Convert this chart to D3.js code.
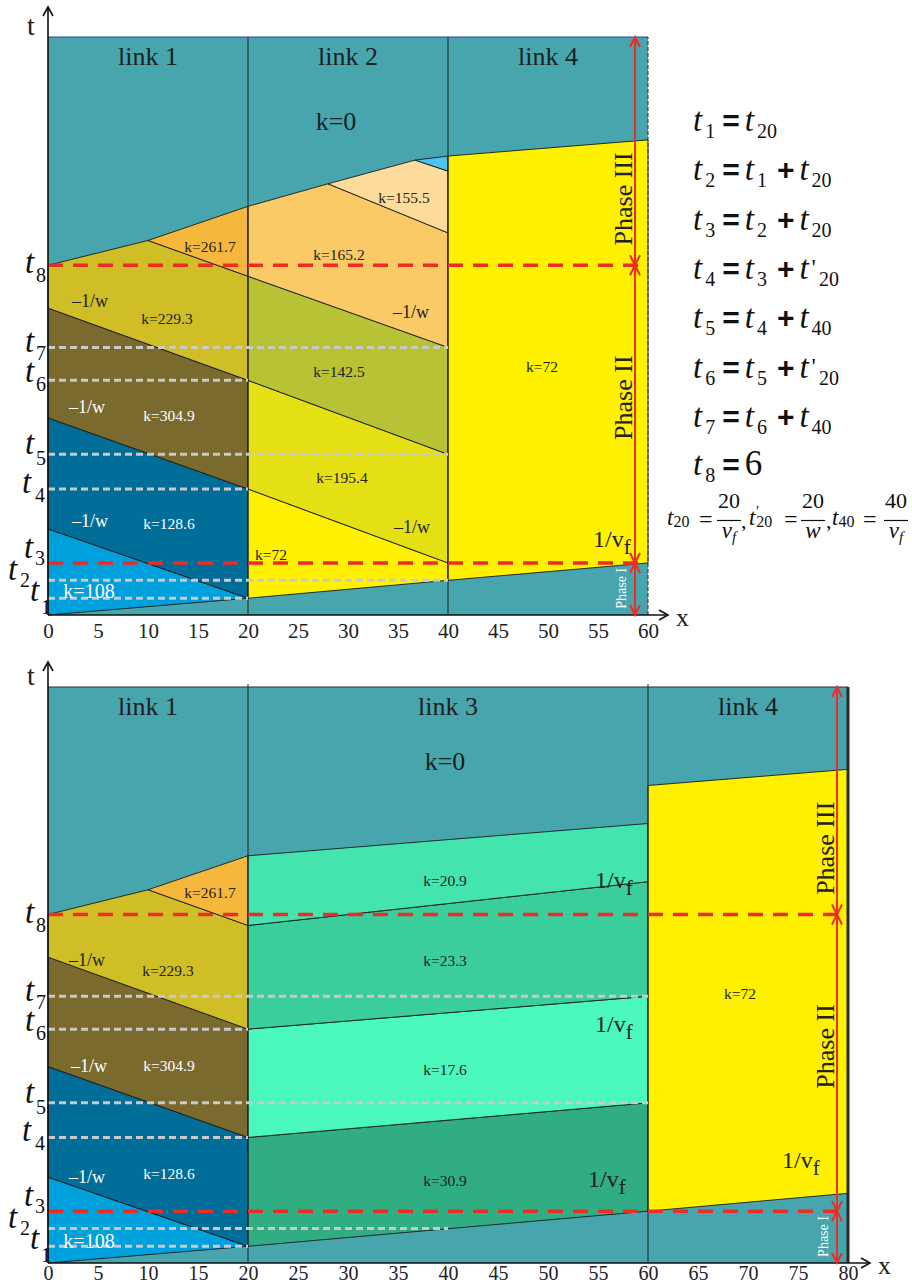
<!DOCTYPE html>
<html>
<head>
<meta charset="utf-8">
<script src="https://cdn.jsdelivr.net/npm/d3@7"></script>
<style>
body { margin: 0; background: #fff; }
svg text { font-family: "Liberation Serif", "DejaVu Serif", serif; }
</style>
</head>
<body>
<svg id="chart" width="912" height="1287"></svg>
<script>
// ---- data (x in km, t in the diagram's time units) ----
var tNames  = ["1", "2", "3", "4", "5", "6", "7", "8"];
var tValues = [0.29, 0.60, 0.90, 2.18, 2.78, 4.06, 4.63, 6.05];

var topLinkNames = ["link 1", "link 2", "link 4"];
var topLinkEdges = [0, 20, 40, 60];
var topTicks = [0, 5, 10, 15, 20, 25, 30, 35, 40, 45, 50, 55, 60];

var botLinkNames = ["link 1", "link 3", "link 4"];
var botLinkEdges = [0, 20, 60, 80];
var botTicks = [0, 5, 10, 15, 20, 25, 30, 35, 40, 45, 50, 55, 60, 65, 70, 75, 80];

// wave regions, corner points [x, t]
var link1Regions = [
  { id: "k108", pts: [[0, 0], [20, 0.29], [0, 1.49]] },
  { id: "k128", pts: [[0, 1.49], [20, 0.29], [20, 2.18], [0, 3.41]] },
  { id: "k305", pts: [[0, 3.41], [20, 2.18], [20, 4.06], [0, 5.31]] },
  { id: "k229", pts: [[0, 5.31], [20, 4.06], [20, 5.86], [10, 6.48], [0, 6.05]] },
  { id: "k262", pts: [[10, 6.48], [20, 5.86], [20, 7.07]] }
];
var link2Regions = [
  { id: "k72",  pts: [[20, 0.29], [40, 0.60], [40, 0.90], [20, 2.18]] },
  { id: "k195", pts: [[20, 2.18], [40, 0.90], [40, 2.78], [20, 4.06]] },
  { id: "k142", pts: [[20, 4.06], [40, 2.78], [40, 4.63], [20, 5.86]] },
  { id: "k165", pts: [[20, 5.86], [40, 4.63], [40, 6.61], [28, 7.46], [20, 7.07]] },
  { id: "k155", pts: [[28, 7.46], [40, 6.61], [40, 7.68], [36.7, 7.87]] },
  { id: "kCyan", pts: [[36.7, 7.87], [40, 7.68], [40, 7.94]] }
];
var link4TopRegions = [
  { id: "k72", pts: [[40, 0.60], [60, 0.90], [60, 8.22], [40, 7.94]] }
];
var link3Regions = [
  { id: "k31", pts: [[20, 0.29], [60, 0.90], [60, 2.78], [20, 2.18]] },
  { id: "k18", pts: [[20, 2.18], [60, 2.78], [60, 4.63], [20, 4.06]] },
  { id: "k23", pts: [[20, 4.06], [60, 4.63], [60, 6.62], [20, 5.86]] },
  { id: "k21", pts: [[20, 5.86], [60, 6.62], [60, 7.63], [20, 7.07]] }
];
var link4BotRegions = [
  { id: "k72", pts: [[60, 0.90], [80, 1.21], [80, 8.57], [60, 8.29]] }
];

// grey guide lines: [t name, x where it stops]
var topGuides = [["1", 20], ["2", 40], ["4", 20], ["5", 40], ["6", 20], ["7", 40]];
var botGuides = [["1", 20], ["2", 40], ["4", 20], ["5", 60], ["6", 20], ["7", 60]];
var phaseBounds = ["8", "3"];
var phaseNames = ["Phase III", "Phase II", "Phase I"];
var phaseLabelT = [7.2, 3.76, 0.46];

// labels: [text, x, t, kind]
var topLabels = [
  ["k=0", 28.8, 8.39, "big"],
  ["k=261.7", 16.2, 6.28, "k"],
  ["k=165.2", 29.1, 6.14, "k"],
  ["k=155.5", 35.6, 7.13, "k"],
  ["\u20131/w", 4.2, 5.33, "w"],
  ["k=229.3", 11.9, 5.03, "k"],
  ["\u20131/w", 36.3, 5.14, "w"],
  ["k=142.5", 29.1, 4.12, "k"],
  ["\u20131/w", 3.9, 3.50, "wl"],
  ["k=304.9", 12.1, 3.36, "kl"],
  ["k=195.4", 29.4, 2.28, "k"],
  ["\u20131/w", 4.2, 1.52, "wl"],
  ["k=128.6", 12.1, 1.49, "kl"],
  ["\u20131/w", 36.4, 1.42, "w"],
  ["k=72", 22.3, 0.95, "k"],
  ["k=108", 4.1, 0.29, "kb"],
  ["k=72", 49.4, 4.20, "k"],
  ["1/v", 54.5, 1.18, "vf"]
];
var botLabels = [
  ["k=0", 39.7, 8.56, "big"],
  ["k=261.7", 16.2, 6.34, "k"],
  ["k=20.9", 39.7, 6.55, "k"],
  ["1/v", 54.7, 6.51, "vf"],
  ["\u20131/w", 3.9, 5.16, "w"],
  ["k=229.3", 12.0, 4.99, "k"],
  ["k=23.3", 39.7, 5.16, "k"],
  ["1/v", 54.7, 4.01, "vf"],
  ["k=17.6", 39.7, 3.26, "k"],
  ["\u20131/w", 4.1, 3.32, "wl"],
  ["k=304.9", 12.1, 3.33, "kl"],
  ["k=72", 69.2, 4.58, "k"],
  ["1/v", 73.4, 1.65, "vf"],
  ["k=128.6", 12.1, 1.46, "kl"],
  ["\u20131/w", 3.9, 1.39, "wl"],
  ["k=30.9", 39.7, 1.34, "k"],
  ["1/v", 54.0, 1.32, "vf"],
  ["k=108", 4.1, 0.26, "kb"]
];

var eqLines = ["t_1 = t_20", "t_2 = t_1 + t_20", "t_3 = t_2 + t_20", "t_4 = t_3 + t'_20",
               "t_5 = t_4 + t_40", "t_6 = t_5 + t'_20", "t_7 = t_6 + t_40", "t_8 = 6"];

// ---- styles ----
var colors = {
  teal: "#47a5ad", k108: "#00a0dc", k128: "#016d99", k305: "#7a6a2e", k229: "#d0be27",
  k262: "#f5b83d", k72: "#fff100", k195: "#e4e014", k142: "#b7c334", k165: "#f9ca66",
  k155: "#fddb9b", kCyan: "#4cc4f0", k31: "#30ad83", k18: "#4af8be", k23: "#3bce9d", k21: "#44e4ae"
};
var labelStyle = {
  big: { size: 26, fill: "#1e1e1e" },
  k:   { size: 15.5, fill: "#222" },
  kl:  { size: 15.5, fill: "#fff" },
  kb:  { size: 20, fill: "#fff" },
  w:   { size: 18, fill: "#222" },
  wl:  { size: 18, fill: "#fff" },
  vf:  { size: 24, fill: "#222" }
};
var tLabelPos = { // t x, subscript x, t dy, subscript dy
  "1": [30, 41, 3, 16], "2": [8, 20, 0, 7], "3": [24, 35, -5, 2], "4": [22, 35, 4, 13],
  "5": [25, 36, 0, 11], "6": [25, 36, 2, 11], "7": [25, 36, 5, 13], "8": [25, 36, 8, 17]
};
var RED = "#ee2b25";

var svg = d3.select("#chart");
var defs = svg.append("defs");

function marker(id, color, len, half, w) {
  defs.append("marker")
    .attr("id", id)
    .attr("viewBox", (-len - 2) + " " + (-half - 2) + " " + (len + 4) + " " + (2 * half + 4))
    .attr("markerWidth", len + 4).attr("markerHeight", 2 * half + 4)
    .attr("markerUnits", "userSpaceOnUse")
    .attr("refX", 0).attr("refY", 0)
    .attr("orient", "auto-start-reverse")
    .append("path")
    .attr("d", "M" + (-len) + "," + (-half) + "L0,0L" + (-len) + "," + half)
    .attr("fill", "none").attr("stroke", color).attr("stroke-width", w);
}
marker("blackHead", "#111", 9, 5, 1.6);
marker("redHead", RED, 10, 5, 2);

var tOf = function(name) { return tValues[tNames.indexOf(name)]; };

function drawPanel(p) {
  var x = p.x, y = p.y;
  var g = svg.append("g");
  var line = d3.line().x(function(d) { return x(d[0]); }).y(function(d) { return y(d[1]); });

  g.append("rect")
    .attr("x", x(0)).attr("y", y(10))
    .attr("width", x(p.xMax) - x(0)).attr("height", y(0) - y(10))
    .attr("fill", colors.teal);

  g.selectAll("path.region")
    .data(p.regions)
    .enter().append("path")
    .attr("class", "region")
    .attr("d", function(d) { return line(d.pts) + "Z"; })
    .attr("fill", function(d) { return colors[d.id]; })
    .attr("stroke", "#1a1a1a")
    .attr("stroke-width", 0.9)
    .attr("stroke-linejoin", "round");

  // link dividers
  g.selectAll("line.link")
    .data(p.edges.slice(1, -1))
    .enter().append("line")
    .attr("x1", function(d) { return x(d); }).attr("x2", function(d) { return x(d); })
    .attr("y1", y(0)).attr("y2", y(10) - p.dividerOver)
    .attr("stroke", "#222").attr("stroke-width", 1);

  // grey guide lines
  g.selectAll("line.guide")
    .data(p.guides)
    .enter().append("line")
    .attr("x1", x(0)).attr("x2", function(d) { return x(d[1]); })
    .attr("y1", function(d) { return y(tOf(d[0])); })
    .attr("y2", function(d) { return y(tOf(d[0])); })
    .attr("stroke", "#c9c9c9").attr("stroke-width", 3).attr("stroke-dasharray", "7,4");

  // red phase lines
  g.selectAll("line.red")
    .data(phaseBounds)
    .enter().append("line")
    .attr("x1", x(0)).attr("x2", x(p.xMax))
    .attr("y1", function(d) { return y(tOf(d)); })
    .attr("y2", function(d) { return y(tOf(d)); })
    .attr("stroke", RED).attr("stroke-width", 3.5).attr("stroke-dasharray", "15,10");

  // frame
  g.append("line").attr("x1", x(0)).attr("x2", x(p.xMax)).attr("y1", y(10)).attr("y2", y(10))
    .attr("stroke", p.topColor).attr("stroke-width", 1.2);
  g.append("line").attr("x1", x(p.xMax)).attr("x2", x(p.xMax)).attr("y1", y(0)).attr("y2", y(10))
    .attr("stroke", "#2a2a2a").attr("stroke-width", p.rightWidth)
    .attr("stroke-dasharray", p.rightDash);

  // axes with arrows
  g.append("line").attr("x1", x(0)).attr("x2", x(0)).attr("y1", y(0)).attr("y2", p.tTip)
    .attr("stroke", "#111").attr("stroke-width", 1.6).attr("marker-end", "url(#blackHead)");
  g.append("line").attr("x1", x(0)).attr("x2", p.xTip).attr("y1", y(0)).attr("y2", y(0))
    .attr("stroke", "#111").attr("stroke-width", 1.6).attr("marker-end", "url(#blackHead)");
  g.append("text").attr("x", 27).attr("y", y(10) - 2).attr("font-size", 28).attr("fill", "#222").text("t");
  g.append("text").attr("x", p.xTip + 8).attr("y", y(0) + 11).attr("font-size", 26).attr("fill", "#222").text("x");

  var axis = d3.axisBottom(x).tickValues(p.ticks).tickSize(0).tickPadding(p.tickPad).tickFormat(d3.format("d"));
  var ax = g.append("g").attr("transform", "translate(0," + y(0) + ")").call(axis);
  ax.select(".domain").remove();
  ax.selectAll("text").attr("font-size", p.tickSize).attr("fill", "#222")
    .style("font-family", "'Liberation Serif', serif");

  // link names
  g.selectAll("text.link")
    .data(p.linkNames)
    .enter().append("text")
    .attr("x", function(d, i) { return (x(p.edges[i]) + x(p.edges[i + 1])) / 2; })
    .attr("y", y(10) + 28)
    .attr("text-anchor", "middle").attr("font-size", 26).attr("fill", "#1e1e1e")
    .text(function(d) { return d; });

  // t marks on the left
  tNames.forEach(function(n) {
    var py = y(tOf(n)), pos = tLabelPos[n];
    g.append("text").attr("x", pos[0]).attr("y", py + pos[2])
      .attr("font-size", 33).attr("font-style", "italic").attr("fill", "#111").text("t");
    g.append("text").attr("x", pos[1]).attr("y", py + pos[3])
      .attr("font-size", 20).attr("fill", "#111").text(n);
  });

  // region labels
  p.labels.forEach(function(d) {
    var st = labelStyle[d[3]];
    var t = g.append("text")
      .attr("x", x(d[1])).attr("y", y(d[2]))
      .attr("font-size", st.size).attr("fill", st.fill)
      .attr("text-anchor", d[3] === "vf" ? "start" : "middle")
      .text(d[0]);
    if (d[3] === "vf") {
      t.append("tspan").attr("dy", 7).attr("font-size", 21).text("f");
    }
  });

  // phase arrows
  var bounds = [10, tOf(phaseBounds[0]), tOf(phaseBounds[1]), 0];
  var ax0 = x(p.arrowX);
  for (var i = 0; i < 3; i++) {
    g.append("line").attr("x1", ax0).attr("x2", ax0)
      .attr("y1", y(bounds[i])).attr("y2", y(bounds[i + 1]))
      .attr("stroke", RED).attr("stroke-width", 2)
      .attr("marker-start", "url(#redHead)").attr("marker-end", "url(#redHead)");
    var small = i === 2;
    g.append("text")
      .attr("transform", "translate(" + (ax0 - (small ? 9 : 3)) + "," + y(phaseLabelT[i]) + ") rotate(-90)")
      .attr("text-anchor", "middle")
      .attr("font-size", small ? 14 : 26)
      .attr("fill", small ? "#fff" : "#222")
      .text(phaseNames[i]);
  }
}

drawPanel({
  x: d3.scaleLinear().domain([0, 60]).range([48, 648]),
  y: d3.scaleLinear().domain([0, 10]).range([615, 37]),
  xMax: 60, edges: topLinkEdges, linkNames: topLinkNames, ticks: topTicks,
  regions: link1Regions.concat(link2Regions, link4TopRegions),
  guides: topGuides, labels: topLabels, arrowX: 58.7, tickPad: 8, tickSize: 21,
  tTip: 7, xTip: 668, topColor: "#3d3d9c", rightWidth: 1, rightDash: "4,2", dividerOver: 0
});

drawPanel({
  x: d3.scaleLinear().domain([0, 80]).range([48, 848]),
  y: d3.scaleLinear().domain([0, 10]).range([1263, 687]),
  xMax: 80, edges: botLinkEdges, linkNames: botLinkNames, ticks: botTicks,
  regions: link1Regions.concat(link3Regions, link4BotRegions),
  guides: botGuides, labels: botLabels, arrowX: 78.9, tickPad: 3, tickSize: 20,
  tTip: 662, xTip: 870, topColor: "#333", rightWidth: 3, rightDash: null, dividerOver: 3
});

// ---- equations on the right ----
var eqG = svg.append("g");
eqLines.forEach(function(str, row) {
  var base = row < 7 ? 131 + row * 49.3 : 475;
  var txt = eqG.append("text").attr("x", 693).attr("y", base).attr("fill", "#111");
  var prevOp = false;
  str.split(" ").forEach(function(tok) {
    if (tok === "=" || tok === "+") {
      txt.append("tspan").attr("y", base).attr("dx", tok === "+" ? 10 : 7)
        .style("font-family", "'Liberation Sans', Arial, sans-serif")
        .attr("font-weight", "bold").attr("font-size", 30).text(tok);
      prevOp = true;
    } else if (tok.indexOf("t") === 0) {
      var parts = tok.split("_");
      txt.append("tspan").attr("y", base).attr("dx", prevOp ? 5 : 0)
        .attr("font-style", "italic").attr("font-size", 33).text("t");
      if (parts[0] === "t'") {
        txt.append("tspan").attr("y", base - 4).attr("dx", 3).attr("font-size", 24).text("'");
      }
      txt.append("tspan").attr("y", base + 7).attr("dx", 3).attr("font-size", 20).text(parts[1]);
      prevOp = false;
    } else {
      txt.append("tspan").attr("y", base).attr("dx", 5).attr("font-size", 35).text(tok);
      prevOp = false;
    }
  });
});

// t20 = 20/vf, t'20 = 20/w, t40 = 40/vf
var fr = svg.append("g").attr("fill", "#111");
function sym(xp, subTxt, prime) {
  var t = fr.append("text").attr("x", xp).attr("y", 525);
  t.append("tspan").attr("font-style", "italic").attr("font-size", 23).text("t");
  if (prime) {
    t.append("tspan").attr("font-size", 15).attr("dy", -9).attr("dx", 0.5).text("\u2032");
    t.append("tspan").attr("font-size", 16).attr("dy", 11).attr("dx", -3).text(subTxt);
  } else {
    t.append("tspan").attr("font-size", 16).attr("dy", 2).text(subTxt);
  }
}
function frac(cx, num, den, denSub) {
  fr.append("text").attr("x", cx).attr("y", 508).attr("text-anchor", "middle").attr("font-size", 22).text(num);
  fr.append("line").attr("x1", cx - 12).attr("x2", cx + 12).attr("y1", 520.5).attr("y2", 520.5)
    .attr("stroke", "#111").attr("stroke-width", 1.2);
  var d = fr.append("text").attr("x", cx).attr("y", 538).attr("text-anchor", "middle");
  d.append("tspan").attr("font-style", "italic").attr("font-size", 23).text(den);
  if (denSub) d.append("tspan").attr("font-style", "italic").attr("font-size", 15).attr("dy", 4).text(denSub);
}
function eqSign(xp) {
  fr.append("text").attr("x", xp).attr("y", 527).attr("font-size", 24).text("=");
}
sym(667, "20", false); eqSign(699); frac(729, "20", "v", "f");
fr.append("text").attr("x", 741).attr("y", 528).attr("font-size", 22).text(",");
sym(749, "20", true); eqSign(784); frac(813, "20", "w", null);
fr.append("text").attr("x", 826).attr("y", 528).attr("font-size", 22).text(",");
sym(832, "40", false); eqSign(863); frac(896, "40", "v", "f");
</script>
</body>
</html>
